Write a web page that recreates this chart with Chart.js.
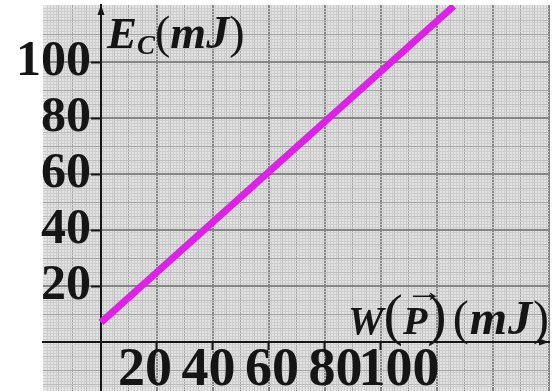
<!DOCTYPE html>
<html>
<head>
<meta charset="utf-8">
<script src="https://cdn.jsdelivr.net/npm/chart.js@4.4.1/dist/chart.umd.min.js"></script>
<style>
  body { margin: 0; background: #fff; }
  #wrap { position: relative; width: 560px; height: 391px; overflow: hidden; }
  .ttl { position: absolute; font-family: "Liberation Serif", serif; color: #151515; white-space: nowrap; line-height: 1; }
  .bi { font-weight: bold; font-style: italic; }
  #yTitle { left: 107px; top: 10px; font-size: 45px; }
  #yTitle sub { font-size: 27px; vertical-align: -6px; }
  #yTitle .unit { font-size: 46px; }
  #xTitle { left: 348px; top: 286px; font-size: 40px; }
  .big { font-size: 58px; }
  #xTitle .unit { font-size: 48px; margin-left: 6px; letter-spacing: 1px; }
  .vec { position: relative; display: inline-block; }
  .vec .arr { position: absolute; left: 2px; top: -25px; font-size: 30px; font-style: normal; font-weight: normal; transform: scaleX(1.3); transform-origin: left center; }
</style>
</head>
<body>
<div id="wrap">
  <canvas id="graph" width="560" height="391"></canvas>
  <div id="yTitle" class="ttl"><span class="bi">E</span><sub class="bi">C</sub><span class="unit">(<span class="bi">mJ</span>)</span></div>
  <div id="xTitle" class="ttl"><span class="bi">W</span><span class="big">(</span><span class="vec bi"><span class="arr">→</span>P</span><span class="big">)</span><span class="unit">(<span class="bi">mJ</span>)</span></div>
</div>
<script>
// travail du poids W(P) et energie cinetique Ec, en mJ
const wValues = [0, 126];
const ecValues = [7, 120];

// graduations
const xTickLabels = [20, 40, 60, 80, 100];
const yTickLabels = [20, 40, 60, 80, 100];

// papier millimetre visible autour des axes
const X_MIN = -20.71, X_MAX = 160;
const Y_MIN = -17.5, Y_MAX = 120.36;
// les nombres sous l'axe x sont plus espaces que le quadrillage
const XL_MIN = -12.13, XL_MAX = 147.24;

const serif = "'Liberation Serif', 'Times New Roman', serif";
const noPad = (s) => { s.paddingTop = s.paddingBottom = s.paddingLeft = s.paddingRight = 0; };

function paperColor(ctx) {
  const v = ctx.tick ? ctx.tick.value : NaN;
  if (!Number.isInteger(v)) return 'rgba(0,0,0,0)';
  if (v % 20 === 0) return '#858585';
  if (v % 10 === 0) return '#a4a4a4';
  if (v % 5 === 0) return '#bdbdbd';
  return '#cdcdcd';
}
function paperWidth(ctx) {
  const v = ctx.tick ? ctx.tick.value : 0;
  if (v % 20 === 0) return 2;
  return 1;
}
function markColor(labels) {
  return (ctx) => (ctx.tick && labels.includes(ctx.tick.value)) ? '#151515' : 'rgba(0,0,0,0)';
}

const paper = {
  id: 'paper',
  beforeDraw(chart) {
    const { ctx, chartArea: a } = chart;
    ctx.save();
    ctx.fillStyle = '#e2e2e2';
    ctx.fillRect(a.left, a.top, a.right - a.left, a.bottom - a.top);
    ctx.restore();
  },
  afterDraw(chart) {
    // fleches des axes
    const { ctx, chartArea: a, scales } = chart;
    const ox = scales.x.getPixelForValue(0);
    const oy = scales.y.getPixelForValue(0);
    ctx.save();
    ctx.fillStyle = '#151515';
    ctx.beginPath();
    ctx.moveTo(ox, a.top);
    ctx.lineTo(ox - 3.5, a.top + 10);
    ctx.lineTo(ox + 3.5, a.top + 10);
    ctx.fill();
    ctx.beginPath();
    ctx.moveTo(a.right, oy);
    ctx.lineTo(a.right - 10, oy - 3.5);
    ctx.lineTo(a.right - 10, oy + 3.5);
    ctx.fill();
    ctx.restore();
  }
};

new Chart(document.getElementById('graph'), {
  type: 'line',
  data: {
    datasets: [{
      label: 'Ec',
      data: wValues.map((w, i) => ({ x: w, y: ecValues[i] })),
      borderColor: '#dc22e4',
      borderWidth: 7,
      borderCapStyle: 'butt',
      pointRadius: 0,
      xAxisID: 'x',
      yAxisID: 'y'
    }]
  },
  options: {
    responsive: false,
    animation: false,
    layout: { padding: { left: 43, top: 5, right: 11, bottom: 0 } },
    plugins: { legend: { display: false }, tooltip: { enabled: false } },
    scales: {
      xg: {
        axis: 'x', type: 'linear', min: X_MIN, max: X_MAX, position: { y: 0 },
        ticks: { display: false, stepSize: 1, autoSkip: false },
        border: { display: false },
        grid: { drawTicks: false, color: paperColor, lineWidth: paperWidth },
        afterFit: noPad
      },
      yg: {
        axis: 'y', type: 'linear', min: Y_MIN, max: Y_MAX, position: { x: 0 },
        ticks: { display: false, stepSize: 1, autoSkip: false },
        border: { display: false },
        grid: { drawTicks: false, color: paperColor, lineWidth: paperWidth },
        afterFit: noPad
      },
      x: {
        type: 'linear', min: X_MIN, max: X_MAX, position: { y: 0 },
        ticks: { display: false, stepSize: 20 },
        border: { color: '#151515', width: 2 },
        grid: { drawOnChartArea: false, tickLength: 7, tickWidth: 2, tickColor: markColor(xTickLabels) },
        afterFit: noPad
      },
      y: {
        type: 'linear', min: Y_MIN, max: Y_MAX, position: { x: 0 },
        ticks: {
          stepSize: 20, autoSkip: false, color: '#151515',
          font: { family: serif, size: 50, weight: 'bold', lineHeight: 1 },
          // axe place au zero : l'espace fin laisse la place du tiret de graduation
          callback: (v) => yTickLabels.includes(v) ? v + '\u2009' : ''
        },
        border: { color: '#151515', width: 2 },
        grid: { drawOnChartArea: false, tickLength: 9, tickWidth: 2, tickColor: markColor(yTickLabels) },
        afterFit: noPad
      },
      xl: {
        axis: 'x', type: 'linear', min: XL_MIN, max: XL_MAX, position: { y: 0 },
        ticks: {
          stepSize: 20, autoSkip: false, maxRotation: 0, padding: 2, color: '#151515',
          font: { family: serif, size: 54, weight: 'bold', lineHeight: 1 },
          callback: (v) => xTickLabels.includes(v) ? String(v) : ''
        },
        border: { display: false },
        grid: { display: false, drawTicks: false },
        afterFit: noPad
      }
    }
  },
  plugins: [paper]
});
</script>
</body>
</html>
